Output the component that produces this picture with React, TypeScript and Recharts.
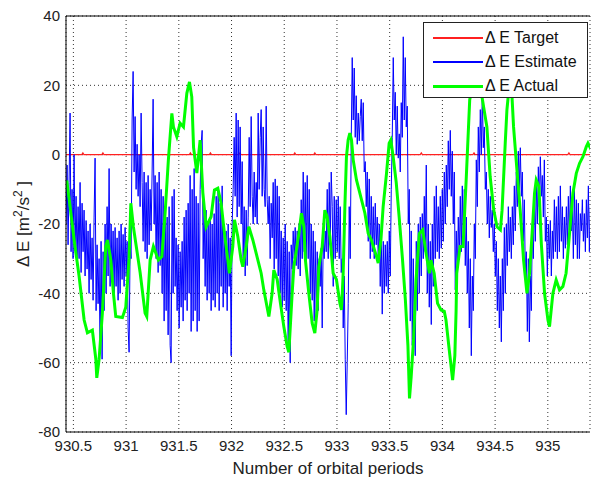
import { CartesianGrid, Legend, Line, LineChart, ReferenceLine, XAxis, YAxis } from 'recharts';

const FONT = '"Liberation Sans", Arial, sans-serif';

const seriesNames = ['\u0394 E Target', '\u0394 E Estimate', '\u0394 E Actual'];
const seriesColors = ['#ff2020', '#0000ff', '#00ff00'];

const xTicks = [930.5, 931, 931.5, 932, 932.5, 933, 933.5, 934, 934.5, 935];
const yTicks = [-80, -60, -40, -20, 0, 20, 40];

// target: flat at zero with a few tiny bumps
const targetX = [930.43, 930.58, 930.59, 930.6, 930.77, 930.78, 930.79, 931.6, 931.61, 931.62, 931.79, 931.8, 931.81,
  932.07, 932.08, 932.09, 932.59, 932.6, 932.61, 932.78, 932.79, 932.8, 933.79, 933.8, 933.81, 934.29, 934.3, 934.31,
  935.19, 935.2, 935.21, 935.41];
const targetY = [0, 0, 0.5, 0, 0, 0.5, 0, 0, 0.5, 0, 0, 0.5, 0,
  0, 0.5, 0, 0, 0.5, 0, 0, 0.5, 0, 0, 0.5, 0, 0, 0.5, 0,
  0, 0.5, 0, 0];

// estimate: one sample every 0.00949 periods from 930.4307
const estimateStart = 930.4307;
const estimateStep = 0.00949;
const estimateValues = [
  -20, -3, -26, -8, 12, -28, -10, -30, 0, -27,
  -12, -32, -15, -30, -8, -34, -14, -28, -16, -35,
  -19, -33, -22, -40, -20, -36, -24, -42, -18, -1,
  -45, -26, -43, -30, -57, -25, -59, -28, -45, -20,
  -40, -15, -35, -4, -38, -20, -36, -22, -40, -21,
  -38, -24, -42, -22, -40, -20, -36, -23, -38, -21,
  -35, -25, -50, -57, -26, -30, 10, 24, -5, 11,
  -10, 3, -12, 0, -15, 12, -8, -25, -5, -28,
  -8, -30, -6, -26, -10, -22, -5, 16, -20, -6,
  -30, -8, -34, -5, -32, -10, -40, -12, -48, -15,
  -45, -18, -52, -15, -55, -60, -12, -40, -10, -38,
  -24, -45, -26, -50, -28, -44, -25, -48, -18, -42,
  -16, -45, -14, -40, -6, -51, -10, -48, -4, -45,
  -12, -51, -14, -48, -10, 3, 7, -30, -15, -38,
  -16, -42, -20, -40, -18, -45, -20, -42, -17, -44,
  -12, -40, -10, -45, -14, -38, -9, -44, -20, -40,
  -22, -45, -20, -38, -24, -58, -20, -10, 5, -12,
  12, -18, 10, -15, 8, -20, -2, -30, -15, -35,
  -16, -32, -18, 5, -15, 11, -12, -20, -5, -18,
  -8, -20, 12, -10, 5, 13, -12, 8, -10, -15,
  14, -13, -20, -12, -30, -14, -24, -8, -33, -7,
  -30, -9, -35, -12, -40, -22, -44, -24, -42, -20,
  -45, -25, -55, -28, -60, -26, -33, -22, -30, -21,
  -32, -22, -33, -20, -35, -13, -30, -5, -28, -8,
  -33, -6, -30, -10, -40, -20, -42, -22, -48, -25,
  -47, -28, -45, -30, -38, -27, -50, -24, -30, -22,
  -28, -10, -30, -8, -26, -5, -15, -38, -12, -30,
  -13, -28, -12, -30, -15, -34, -30, -50, -35, -59,
  -75, -60, -43, -15, -30, 4, 28, 10, 25, 5,
  17, 3, 12, 4, 11, 16, 4, 15, -5, -2,
  -15, -5, -25, -7, -30, -12, -28, -15, -30, -14,
  -26, -18, -30, -20, -38, -22, -46, -25, -40, -26,
  -38, -25, -40, -22, -35, -10, 5, 28, 10, 18,
  0, 14, -1, 6, -5, 15, 5, 34, 10, 28,
  8, 14, -20, -10, -48, -22, -55, -30, -50, -58,
  -25, -45, -20, -40, -18, -35, -17, -30, -12, -28,
  -3, -40, -20, -44, -25, -49, -20, -38, -12, -30,
  -9, -28, -15, -30, -12, -27, -10, -25, -5, -20,
  -3, -15, 4, -10, 7, -12, 1, -20, -5, -39,
  -22, -35, -18, -30, -12, -28, -9, -26, -10, -32,
  -18, -40, -25, -50, -30, -58, -35, -45, -20, -30,
  -1.5, -15, 8, -5, 13, 0, 18, 2, 8, -10,
  -5, -20, -10, -24, -12, -21, -16, -28, -20, -35,
  -25, -45, -30, -50, -35, -54, -30, -45, -21, -40,
  -20, -32, -15, -28, -18, -30, -15, -26, -9, -22,
  -5, -15, 1, -10, 2, -12, -5, -25, -13, -35,
  -28, -51, -30, -54, -35, -45, -20, -30, -13, -25,
  -8, -20, -3.5, -15, -0.6, -12, -6, -18, -1.5, -25,
  -18, -35, -20, -30, -19, -35, -22, -30, -13, -28,
  -15, -30, -12, -28, -9, -25, -15, -30, -18, -27,
  -15, -26, -12, -25, -9, -22, -15, -30, -9, -26,
  -13, -30, -14, -30, -17, -22, -13, -25, -17, -28,
  -13, -24, -9, -28, -15,
];

// actual
const actualX = [930.437, 930.469, 930.507, 930.554, 930.602, 930.633, 930.68, 930.713, 930.722, 930.744,
  930.775, 930.807, 930.823, 930.855, 930.88, 930.902, 930.965, 930.997, 931.028, 931.045,
  931.069, 931.133, 931.18, 931.196, 931.228, 931.259, 931.306, 931.339, 931.37, 931.401,
  931.434, 931.449, 931.481, 931.512, 931.544, 931.576, 931.601, 931.623, 931.64, 931.671,
  931.702, 931.728, 931.759, 931.806, 931.838, 931.87, 931.901, 931.933, 931.965, 931.98,
  932.012, 932.028, 932.06, 932.091, 932.107, 932.139, 932.164, 932.202, 932.25, 932.281,
  932.306, 932.354, 932.385, 932.401, 932.433, 932.464, 932.496, 932.528, 932.544, 932.575,
  932.591, 932.639, 932.663, 932.686, 932.701, 932.733, 932.765, 932.79, 932.812, 932.828,
  932.86, 932.885, 932.907, 932.933, 932.964, 932.995, 933.028, 933.043, 933.059, 933.075,
  933.09, 933.106, 933.122, 933.138, 933.154, 933.185, 933.217, 933.265, 933.296, 933.327,
  933.375, 933.391, 933.417, 933.438, 933.47, 933.495, 933.511, 933.533, 933.562, 933.59,
  933.621, 933.649, 933.673, 933.688, 933.704, 933.727, 933.75, 933.782, 933.813, 933.845,
  933.877, 933.891, 933.922, 933.954, 933.987, 934.018, 934.034, 934.065, 934.097, 934.118,
  934.13, 934.136, 934.168, 934.196, 934.227, 934.259, 934.297, 934.334, 934.37, 934.422,
  934.453, 934.487, 934.518, 934.55, 934.566, 934.596, 934.612, 934.624, 934.653, 934.675,
  934.707, 934.738, 934.77, 934.802, 934.827, 934.859, 934.874, 934.89, 934.916, 934.938,
  934.969, 935.001, 935.016, 935.048, 935.079, 935.111, 935.143, 935.173, 935.206, 935.238,
  935.27, 935.301, 935.333, 935.365, 935.381, 935.412];
const actualY = [-7.4, -15, -24.6, -35, -47.7, -51.4, -50.6, -59, -64.4, -59,
  -45.7, -26.5, -24.6, -30.4, -40, -46.7, -47, -44, -30, -14,
  -20.8, -34, -45.7, -46.7, -30.4, -26.5, -30.4, -29.4, -16.9, -1.5,
  11.9, 8, 5.2, 9.1, 8, 17.7, 21, 16.7, 2, -5.3,
  4.2, -11, -20.8, -17.9, -10.2, -9.7, -14, -22.7, -30.4, -34.2,
  -26.5, -18.8, -23.7, -30.4, -32.3, -26.5, -20.8, -24.6, -30.4, -34.2,
  -39, -46.7, -40, -33.3, -36, -42.9, -49.6, -55.4, -57, -40,
  -32.3, -22.7, -16.9, -20.8, -30.4, -40, -48.6, -51.5, -44.8, -32.3,
  -26.5, -16, -17.9, -23.7, -34.2, -36, -42.9, -44.8, -34.2, -15,
  -0.6, 4.2, 6.2, 4.2, -1.5, -7.3, -11.1, -16.9, -22.7, -24.6,
  -29.4, -31.3, -24.6, -15, -5.4, 3.3, 4.2, -0.6, -8, -18,
  -30, -42, -55, -70.3, -64, -53, -36.1, -22.7, -21.7, -28.4,
  -34.2, -30.4, -34.2, -42.9, -44.8, -45.2, -47.7, -56.3, -65, -58,
  -45, -34.2, -26.5, -26.5, -6.3, 15.8, 22, 22, 17.7, 8,
  -6.3, -16, -20.8, -21.7, -16, 3.3, 12.9, 16.7, 21, 8,
  -4.4, -16, -30.4, -40, -34.2, -18.8, -11.1, -7.3, -9.2, -25.5,
  -40, -47.7, -49.6, -40, -36.1, -39, -38, -34.2, -22.7, -11.1,
  -5.4, -2.5, -0.6, 2.3, 3.3, 1.4];

const targetData = targetX.map((x, i) => ({ x, y: targetY[i] }));
const estimateData = estimateValues.map((y, i) => ({ x: estimateStart + i * estimateStep, y }));
const actualData = actualX.map((x, i) => ({ x, y: actualY[i] }));

function LegendBox() {
  return (
    <div
      style={{
        width: 165,
        height: 76,
        boxSizing: 'border-box',
        border: '1px solid #222',
        background: '#fff',
        fontFamily: FONT,
        fontSize: 16,
        color: '#111',
        paddingTop: 3,
      }}
    >
      {seriesNames.map((name, i) => (
        <div key={name} style={{ display: 'flex', alignItems: 'center', height: 24 }}>
          <div
            style={{
              marginLeft: 9,
              width: 50,
              height: i === 2 ? 3 : i === 1 ? 2 : 1.5,
              background: seriesColors[i],
            }}
          />
          <span style={{ marginLeft: 2, whiteSpace: 'nowrap' }}>{name}</span>
        </div>
      ))}
    </div>
  );
}

function YLabel() {
  return (
    <text transform="translate(29,224) rotate(-90)" textAnchor="middle" fontFamily={FONT} fontSize={17} fill="#222">
      {'\u0394 E [m'}
      <tspan dy={-7} fontSize={12}>2</tspan>
      <tspan dy={7}>/s</tspan>
      <tspan dy={-7} fontSize={12}>2</tspan>
      <tspan dy={7}>{' ]'}</tspan>
    </text>
  );
}

export default function App() {
  return (
    <div style={{ position: 'absolute', left: 0, top: 0, width: 591, height: 479, background: '#fff' }}>
      <LineChart width={591} height={479} margin={{ top: 16, right: 1, bottom: 0, left: 0 }}>
        <CartesianGrid stroke="#333" strokeDasharray="1 3" />
        <XAxis
          type="number"
          dataKey="x"
          domain={[930.43, 935.4]}
          ticks={xTicks}
          allowDataOverflow
          height={47}
          tickLine={false}
          tickSize={0}
          tickMargin={8}
          stroke="#000"
          tick={{ fontSize: 15, fill: '#222', fontFamily: FONT }}
          label={{ value: 'Number of orbital periods', position: 'insideBottom', offset: 5, fontSize: 17, fill: '#222', fontFamily: FONT }}
        />
        <YAxis
          type="number"
          domain={[-80, 40]}
          ticks={yTicks}
          allowDataOverflow
          width={66}
          tickLine={false}
          tickSize={0}
          tickMargin={6}
          stroke="#000"
          tick={{ fontSize: 15, fill: '#222', fontFamily: FONT }}
          label={{ content: () => <YLabel /> }}
        />
        <ReferenceLine y={40} stroke="#000" />
        <Line data={targetData} dataKey="y" name={seriesNames[0]} stroke={seriesColors[0]} strokeWidth={1.2} dot={false} activeDot={false} isAnimationActive={false} />
        <Line data={estimateData} dataKey="y" name={seriesNames[1]} stroke={seriesColors[1]} strokeWidth={1} dot={false} activeDot={false} isAnimationActive={false} />
        <Line data={actualData} dataKey="y" name={seriesNames[2]} stroke={seriesColors[2]} strokeWidth={3} dot={false} activeDot={false} isAnimationActive={false} />
        <Legend
          layout="horizontal"
          verticalAlign="middle"
          align="center"
          content={() => <LegendBox />}
          wrapperStyle={{ position: 'absolute', left: 423, top: 22, width: 165, height: 76 }}
        />
      </LineChart>
    </div>
  );
}
